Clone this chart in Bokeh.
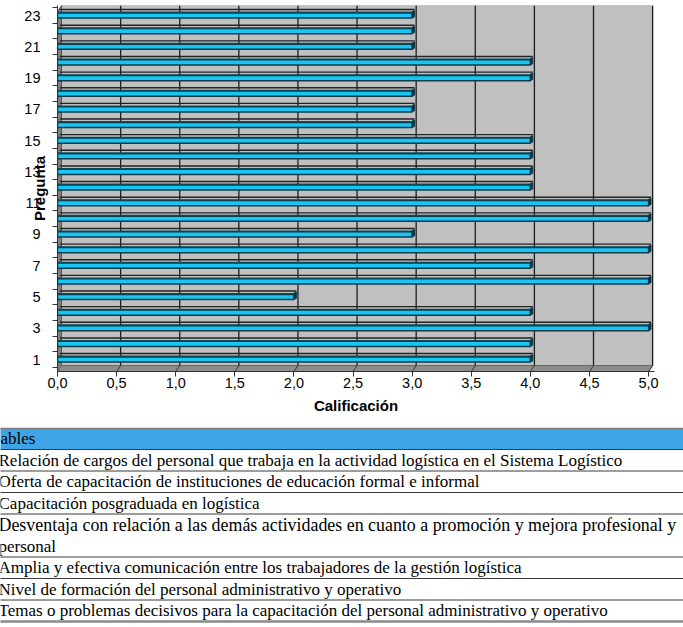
from bokeh.core.properties import value
from bokeh.embed import file_html
from bokeh.models import ColumnDataSource, CustomJSTickFormatter, FixedTicker, Range1d
from bokeh.plotting import figure
from bokeh.resources import INLINE

# ---- data -------------------------------------------------------------
preguntas = list(range(1, 24))
calificacion = [4, 4, 5, 4, 2, 5, 4, 5, 3, 5, 5, 4, 4, 4, 4, 3, 3, 3, 4, 4, 3, 3, 3]

x_ticks = [0.0, 0.5, 1.0, 1.5, 2.0, 2.5, 3.0, 3.5, 4.0, 4.5, 5.0]
y_label_ticks = [1, 3, 5, 7, 9, 11, 13, 15, 17, 19, 21, 23]
y_boundaries = [k + 0.5 for k in range(0, 24)]

x_title = "Calificación"
y_title = "Pregunta"

tabla_titulo = "ables"
variables = [
    ["Relación de cargos del personal que trabaja en la actividad logística en el Sistema Logístico"],
    ["Oferta de capacitación de instituciones de educación formal e informal"],
    ["Capacitación posgraduada en logística"],
    ["Desventaja con relación a las demás actividades en cuanto a promoción y mejora profesional y",
     "personal"],
    ["Amplia y efectiva comunicación entre los trabajadores de la gestión logística"],
    ["Nivel de formación del personal administrativo y operativo"],
    ["Temas o problemas decisivos para la capacitación del personal administrativo y operativo"],
]

# ---- chart ------------------------------------------------------------
Y0, Y1 = 0.233, 23.64          # vertical extent of the plotting box
X1 = 5.05
DX, DY = 0.034, 0.38           # depth of the 3-D box in data units

WALL = "#C0C0C0"
CYAN = "#19C6F3"
EDGE = "#0A3A4A"
TEAL = "#0D4859"
FONT = "Liberation Sans"

p = figure(width=683, height=420,
           x_range=Range1d(0, X1), y_range=Range1d(Y0, Y1),
           output_backend="svg", toolbar_location=None,
           min_border_left=57, min_border_right=29,
           min_border_top=5, min_border_bottom=49)
p.outline_line_color = None
p.xgrid.visible = False
p.ygrid.visible = False
p.background_fill_color = "white"
p.border_fill_color = "white"

# back wall, side wall and floor
p.quad(left=DX, right=5 + DX, bottom=Y0 + DY, top=Y1,
       fill_color=WALL, line_color="#9A9A9A", line_width=1)
p.patch(x=[0, DX, DX, 0], y=[Y0, Y0 + DY, Y1, Y1 - DY],
        fill_color="#7F7F7F", line_color="#555555", line_width=1)
p.patch(x=[0, 5, 5 + DX, DX], y=[Y0, Y0, Y0 + DY, Y0 + DY],
        fill_color="#8C8C8C", line_color="#666666", line_width=1)

# vertical gridlines on the wall and on the floor
grid_x = x_ticks[1:]
p.segment(x0=[t + DX for t in grid_x], y0=Y0 + DY,
          x1=[t + DX for t in grid_x], y1=Y1,
          line_color="#1E1E1E", line_width=1.3)
p.segment(x0=grid_x, y0=Y0, x1=[t + DX for t in grid_x], y1=Y0 + DY,
          line_color="#3A3A3A", line_width=1)

# 3-D bars: far edge of the top face, front face, top band and end cap
half = 0.165
p.segment(x0=[DX * 0.6] * len(preguntas), y0=[c + 0.38 for c in preguntas],
          x1=[v + DX * 0.6 for v in calificacion], y1=[c + 0.38 for c in preguntas],
          line_color="#232323", line_width=1.4)
p.quad(left=0, right=calificacion,
       bottom=[c - half for c in preguntas], top=[c + half for c in preguntas],
       fill_color=CYAN, line_color=EDGE, line_width=1.5)
p.quad(left=0, right=calificacion,
       bottom=[c + half for c in preguntas], top=[c + 0.25 for c in preguntas],
       fill_color=TEAL, line_color=None)
cap_xs = [[v, v + DX * 0.6, v + DX * 0.6, v] for v in calificacion]
cap_ys = [[c - half, c - half + 0.08, c + 0.32, c + 0.25] for c in preguntas]
p.patches(xs=cap_xs, ys=cap_ys, fill_color="#0A3342", line_color=EDGE, line_width=1)

# axes
xa = p.xaxis[0]
xa.ticker = FixedTicker(ticks=x_ticks)
xa.formatter = CustomJSTickFormatter(code="return tick.toFixed(1).replace('.', ',')")
xa.axis_line_color = "#333333"
xa.major_tick_line_color = "#333333"
xa.major_tick_out = 5
xa.major_tick_in = 0
xa.minor_tick_line_color = None
xa.major_label_standoff = 1
xa.major_label_text_font = FONT
xa.major_label_text_font_size = "14.5px"
xa.major_label_text_color = "#000000"
xa.axis_label = x_title
xa.axis_label_text_font = FONT
xa.axis_label_text_font_size = "15px"
xa.axis_label_text_font_style = "bold"
xa.axis_label_text_color = "#000000"
xa.axis_label_standoff = 6

ya = p.yaxis[0]
ya.ticker = FixedTicker(ticks=y_label_ticks, minor_ticks=y_boundaries)
ya.axis_line_color = "#333333"
ya.major_tick_out = 0
ya.major_tick_in = 0
ya.minor_tick_out = 5
ya.minor_tick_in = 0
ya.minor_tick_line_color = "#333333"
ya.major_label_standoff = 12
ya.major_label_text_font = FONT
ya.major_label_text_font_size = "14.5px"
ya.major_label_text_color = "#000000"
# the title sits over the tick labels
ya.axis_label = y_title
ya.axis_label_text_font = FONT
ya.axis_label_text_font_size = "15px"
ya.axis_label_text_font_style = "bold"
ya.axis_label_text_color = "#000000"
ya.axis_label_standoff = -27

# ---- table of variables -------------------------------------------------
TOP, BOTTOM = 420, 627
t = figure(width=683, height=BOTTOM - TOP,
           x_range=Range1d(0, 683), y_range=Range1d(BOTTOM, TOP),
           output_backend="svg", toolbar_location=None,
           x_axis_location=None, y_axis_location=None, min_border=0)
t.outline_line_color = None
t.xgrid.visible = False
t.ygrid.visible = False

HEAD_TOP, HEAD_BOTTOM = 428, 449
LINE_H = 21.5
SERIF = "Liberation Serif"
SIZE = "17px"
JUSTIFIED_SIZE = "17.9px"   # wrapped lines are stretched to the cell width

t.quad(left=-5, right=690, top=HEAD_TOP, bottom=HEAD_BOTTOM,
       fill_color="#3FA4E6", line_color=None)
t.segment(x0=-5, y0=HEAD_TOP, x1=690, y1=HEAD_TOP, line_color="#7A7A7A", line_width=1.5)
t.text(x=[0], y=[(HEAD_TOP + HEAD_BOTTOM) / 2 - 1], text=[tabla_titulo],
       text_font=value(SERIF), text_font_size=SIZE, text_color="#000000",
       text_baseline="middle")

rows = dict(x=[], y=[], text=[], size=[])
sep_y = [HEAD_BOTTOM]
y = HEAD_BOTTOM
for lines in variables:
    for k, line in enumerate(lines):
        rows["x"].append(-2)
        rows["y"].append(y + LINE_H * (k + 0.5))
        rows["text"].append(line)
        rows["size"].append(JUSTIFIED_SIZE if k < len(lines) - 1 else SIZE)
    y += LINE_H * len(lines)
    sep_y.append(y)

t.text(x="x", y="y", text="text", text_font_size="size", source=ColumnDataSource(rows),
       text_font=value(SERIF), text_color="#000000", text_baseline="middle")
t.segment(x0=[-5] * (len(sep_y) - 1), y0=sep_y[:-1], x1=[690] * (len(sep_y) - 1), y1=sep_y[:-1],
          line_color="#3A3A3A", line_width=1)
t.segment(x0=-5, y0=sep_y[-1], x1=690, y1=sep_y[-1], line_color="#8A8A8A", line_width=2.5)

open("out.html", "w").write(file_html([p, t], INLINE))
